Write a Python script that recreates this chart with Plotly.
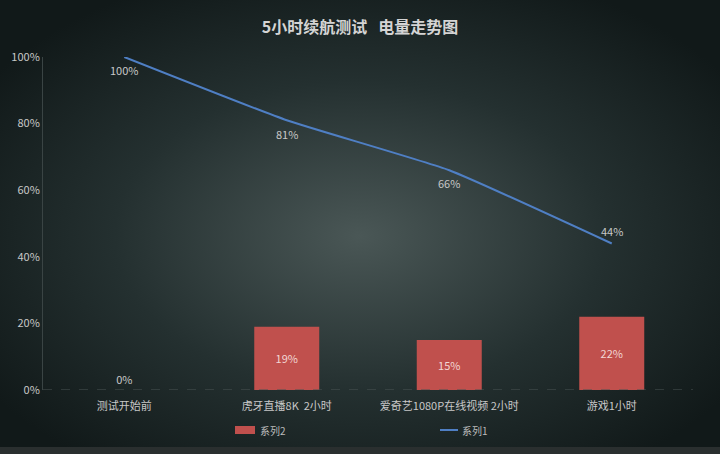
import base64
import plotly.graph_objects as go

categories = ["测试开始前", "虎牙直播8K  2小时", "爱奇艺1080P在线视频 2小时", "游戏1小时"]
battery = [100, 81, 66, 44]      # 系列1
consumed = [0, 19, 15, 22]       # 系列2
label_shift = [-13, -14, -13, 12]

W, H = 720, 454
ML, MR, MT, MB = 43, 27, 57, 64
PW, PH = W - ML - MR, H - MT - MB


def px(x):
    return (x - ML) / PW


def py(y):
    return (H - MB - y) / PH


# radial gradient background via svg data uri
svg = (
    f'<svg xmlns="http://www.w3.org/2000/svg" width="{W}" height="{H}">'
    '<defs><radialGradient id="g" cx="50%" cy="52%" r="62%" fx="50%" fy="52%">'
    '<stop offset="0%" stop-color="#4a5756"/>'
    '<stop offset="55%" stop-color="#243030"/>'
    '<stop offset="100%" stop-color="#111919"/>'
    '</radialGradient></defs>'
    f'<rect width="{W}" height="{H}" fill="url(#g)"/>'
    f'<rect y="447" width="{W}" height="7" fill="#2a2f2f"/>'
    '</svg>'
)
bg = "data:image/svg+xml;base64," + base64.b64encode(svg.encode()).decode()

font = "Noto Sans CJK SC"

fig = go.Figure()

fig.add_trace(go.Bar(
    name="系列2", x=categories, y=consumed,
    marker=dict(color="#c0504d", line=dict(width=0)),
    width=0.4,
    text=[f"{v}%" for v in consumed],
    textposition=["outside", "inside", "inside", "inside"],
    insidetextanchor="middle",
    textfont=dict(color=["#c8c8c8", "#f2d6d4", "#f2d6d4", "#f2d6d4"], size=11, family=font),
    cliponaxis=False,
))

fig.add_trace(go.Scatter(
    name="系列1", x=categories, y=battery,
    mode="lines",
    line=dict(color="#4f7fc4", width=2, shape="spline", smoothing=0.4),
))

for c, v, s in zip(categories, battery, label_shift):
    fig.add_annotation(x=c, y=v, text=f"{v}%", showarrow=False, yshift=s,
                       font=dict(color="#c8c8c8", size=11, family=font))

# legend drawn by hand (wide swatch, tight text)
fig.add_shape(type="rect", xref="paper", yref="paper", x0=px(235), x1=px(255),
              y0=py(434), y1=py(426), fillcolor="#c0504d", line=dict(width=0))
fig.add_shape(type="line", xref="paper", yref="paper", x0=px(440), x1=px(458),
              y0=py(430), y1=py(430), line=dict(color="#4f7fc4", width=2))
for name, x in [("系列2", 258), ("系列1", 460)]:
    fig.add_annotation(xref="paper", yref="paper", x=px(x), y=py(430), text=name,
                       xanchor="left", yanchor="middle", showarrow=False,
                       font=dict(size=10, color="#bbbbbb", family=font))

fig.update_layout(
    width=W, height=H,
    margin=dict(l=ML, r=MR, t=MT, b=MB),
    paper_bgcolor="#111919",
    plot_bgcolor="rgba(0,0,0,0)",
    images=[dict(source=bg, xref="paper", yref="paper",
                 x=-ML / PW, y=1 + MT / PH, sizex=W / PW, sizey=H / PH,
                 xanchor="left", yanchor="top", sizing="stretch", layer="below")],
    title=dict(text="<b>5小时续航测试&nbsp;&nbsp;&nbsp;电量走势图</b>", x=0.5, y=1 - 27 / H,
               xanchor="center", yanchor="middle",
               font=dict(size=16, color="#d4d4d4", family=font)),
    font=dict(family=font, color="#c8c8c8", size=11),
    showlegend=False,
)

fig.update_xaxes(showgrid=False, showline=False, zeroline=False, ticks="",
                 ticklabelstandoff=8, tickfont=dict(size=11, color="#c8c8c8"))
fig.update_yaxes(range=[0, 100], dtick=20, ticksuffix="%", showgrid=False,
                 zeroline=False, showline=True, linecolor="#3a4444", linewidth=1,
                 ticks="", tickfont=dict(size=11, color="#c8c8c8"))

# dashed baseline at 0
fig.add_shape(type="line", xref="paper", yref="y", x0=0, x1=1, y0=0, y1=0,
              line=dict(color="#4a5555", width=1, dash="dash"))

fig.write_html("out.html", config={"displayModeBar": False},
               post_script="document.body.style.margin='0';")
